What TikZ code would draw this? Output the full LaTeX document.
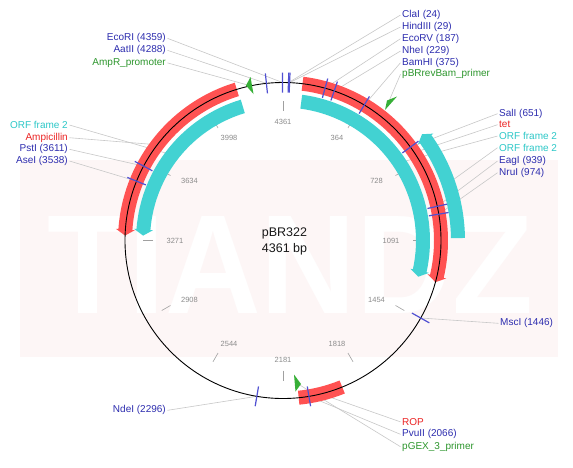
\documentclass[tikz,border=0pt]{standalone}
\usepackage{fontspec}
\setmainfont{Liberation Sans}
\definecolor{sitebl}{RGB}{45,45,175}
\definecolor{sitetick}{RGB}{80,80,210}
\definecolor{bandred}{RGB}{255,82,82}
\definecolor{bandcyan}{RGB}{66,210,210}
\definecolor{lblred}{RGB}{235,35,35}
\definecolor{lblcyan}{RGB}{45,200,200}
\definecolor{lblgreen}{RGB}{45,150,45}
\definecolor{trigreen}{RGB}{55,175,55}
\definecolor{leader}{RGB}{200,200,200}
\definecolor{wmpink}{RGB}{253,246,246}
\definecolor{scalegray}{RGB}{140,140,140}
\definecolor{scaleline}{RGB}{160,160,160}
\newcommand\arcband[6]{%
  \pgfmathsetmacro\rmid{(#2+#3)/2}%
  \pgfmathsetmacro\rlo{#2-2.5}%
  \pgfmathsetmacro\rhi{#3+2.5}%
  \fill[#1] (#4:#3) arc[start angle=#4,end angle=#5,radius=#3] -- (#5:\rhi) -- (#6:\rmid) -- (#5:\rlo) -- (#5:#2) arc[start angle=#5,end angle=#4,radius=#2] -- cycle;}
\begin{document}
\begin{tikzpicture}[x=1pt,y=-1pt,
  lbl/.style={font=\fontsize{10}{12}\selectfont, inner ysep=0pt, inner xsep=1.5pt},
  lblE/.style={lbl, anchor=base east},
  lblW/.style={lbl, anchor=base west},
  leadline/.style={draw=leader, line width=0.6pt},
  sitetk/.style={draw=sitetick, line width=1.2pt},
  scaletk/.style={draw=scaleline, line width=0.6pt},
  scalelbl/.style={font=\fontsize{7.5}{9}\selectfont, text=scalegray, inner sep=0pt},
  redband/.style={fill=bandred},
  cyanband/.style={fill=bandcyan},
  primer/.style={fill=trigreen}]
\useasboundingbox (0,0) rectangle (573,467);
\fill[white] (0,0) rectangle (573,467);
% watermark
\fill[wmpink] (20,160) rectangle (558,357);
\node[anchor=base west, inner sep=0pt, font=\fontsize{141}{141}\selectfont\bfseries, text=white, xscale=0.94] (wm) at (47,313) {TIANDZ};

\begin{scope}[shift={(283,240.5)}]
  % scale ticks and numbers
  \foreach \k/\v in {0/4361,1/364,2/728,3/1091,4/1454,5/1818,6/2181,7/2544,8/2908,9/3271,10/3634,11/3998}{
    \pgfmathsetmacro\a{30*\k-90}
    \draw[scaletk] (\a:130) -- (\a:140);
    \node[scalelbl] (tk\k) at ({108*cos(\a)},{119*sin(\a)}) {\v};
  }
  % feature anchor points
  \coordinate (fEcoRI) at (269.83:158);
  \coordinate (fAatII) at (263.97:158);
  \coordinate (fClaI) at (-88.02:158);
  \coordinate (fHindIII) at (-87.61:158);
  \coordinate (fEcoRV) at (-74.56:158);
  \coordinate (fNheI) at (-71.10:158);
  \coordinate (fBamHI) at (-59.04:158);
  \coordinate (fSalI) at (-36.26:158);
  \coordinate (fEagI) at (-12.49:158);
  \coordinate (fNruI) at (-9.60:158);
  \coordinate (fMscI) at (29.37:158);
  \coordinate (fPvuII) at (80.55:158);
  \coordinate (fNdeI) at (99.53:158);
  \coordinate (fAseI) at (202.06:158);
  \coordinate (fPstI) at (208.09:158);
  \coordinate (ftet) at (-33.8:158);
  \coordinate (fAmp) at (217.3:158);
  \coordinate (fROP) at (76.15:158);
  \coordinate (fORFl) at (217.7:140);
  \coordinate (fORFin) at (-33.75:140);
  \coordinate (fORFout) at (-19.1:175);
\end{scope}
\coordinate (fAmpRp) at (249.5,85.5);
\coordinate (fRevBam) at (389,101);
\coordinate (fpGEX) at (296.5,383);

% labels
\node[lblE, text=sitebl] (lEcoRI) at (167.5,40.9) {EcoRI (4359)};
\node[lblE, text=sitebl] (lAatII) at (167.5,52.9) {AatII (4288)};
\node[lblE, text=lblgreen] (lAmpRp) at (167.5,65.3) {AmpR\_promoter};
\node[lblE, text=lblcyan] (lORFl) at (69.5,128.6) {ORF frame 2};
\node[lblE, text=lblred] (lAmp) at (69.5,140.3) {Ampicillin};
\node[lblE, text=sitebl] (lPstI) at (69.5,151.9) {PstI (3611)};
\node[lblE, text=sitebl] (lAseI) at (69.5,163.6) {AseI (3538)};
\node[lblW, text=sitebl] (lClaI) at (400.5,17.6) {ClaI (24)};
\node[lblW, text=sitebl] (lHindIII) at (400.5,29.6) {HindIII (29)};
\node[lblW, text=sitebl] (lEcoRV) at (400.5,41.3) {EcoRV (187)};
\node[lblW, text=sitebl] (lNheI) at (400.5,53.6) {NheI (229)};
\node[lblW, text=sitebl] (lBamHI) at (400.5,65.3) {BamHI (375)};
\node[lblW, text=lblgreen] (lRevBam) at (400.5,76.9) {pBRrevBam\_primer};
\node[lblW, text=sitebl] (lSalI) at (497.5,116.3) {SalI (651)};
\node[lblW, text=lblred] (ltet) at (497.5,127.9) {tet};
\node[lblW, text=lblcyan] (lORFin) at (497.5,139.6) {ORF frame 2};
\node[lblW, text=lblcyan] (lORFout) at (497.5,151.3) {ORF frame 2};
\node[lblW, text=sitebl] (lEagI) at (497.5,163.6) {EagI (939)};
\node[lblW, text=sitebl] (lNruI) at (497.5,175.3) {NruI (974)};
\node[lblW, text=sitebl] (lMscI) at (498.5,325.9) {MscI (1446)};
\node[lblW, text=lblred] (lROP) at (400.5,425.3) {ROP};
\node[lblW, text=sitebl] (lPvuII) at (400.5,436.9) {PvuII (2066)};
\node[lblW, text=lblgreen] (lpGEX) at (400.5,449.3) {pGEX\_3\_primer};
\node[lblE, text=sitebl] (lNdeI) at (167.5,412.9) {NdeI (2296)};

% leader lines
\foreach \n in {EcoRI,AatII,AmpRp,ORFl,Amp,PstI,AseI,NdeI}{
  \draw[leadline] (l\n.east) -- (f\n);
}
\foreach \n in {ClaI,HindIII,EcoRV,NheI,BamHI,RevBam,SalI,tet,ORFin,ORFout,EagI,NruI,MscI,ROP,PvuII,pGEX}{
  \draw[leadline] (l\n.west) -- (f\n);
}

\begin{scope}[shift={(283,240.5)}]
  % bands
  \arcband{redband}{151}{165}{-82.9}{13.1}{15.3}
  \arcband{redband}{151}{165}{253}{184.0}{181.8}
  \fill[redband] (68:165) arc[start angle=68,end angle=84.3,radius=165] -- (84.3:151) arc[start angle=84.3,end angle=68,radius=151] -- cycle;
  \arcband{cyanband}{133}{147}{253.3}{184.5}{182}
  \arcband{cyanband}{133}{147}{-82.5}{12.5}{15}
  \arcband{cyanband}{168}{182}{-0.8}{-35.4}{-37.4}
  % backbone
  \draw[black, line width=0.9pt] (0,0) circle[radius=158];
  % restriction sites
  \foreach \a in {269.83,263.97,-88.02,-87.61,-74.56,-71.10,-59.04,-36.26,-12.49,-9.60,29.37,80.55,99.53,202.06,208.09}{
    \draw[sitetk] (\a:148) -- (\a:168);
  }
\end{scope}

% primers
\fill[primer] (246,85.5) -- (250.5,77) -- (253.5,94) -- cycle;
\fill[primer] (385,110) -- (387,100.5) -- (397,96.5) -- cycle;
\fill[primer] (294,374.5) -- (295.5,391.5) -- (301,384) -- cycle;

% centre title
\node[font=\fontsize{12.5}{16}\selectfont, align=center, text=black!90, inner sep=0pt] (title) at (284.5,241.5) {pBR322\\4361 bp};
\end{tikzpicture}
\end{document}
